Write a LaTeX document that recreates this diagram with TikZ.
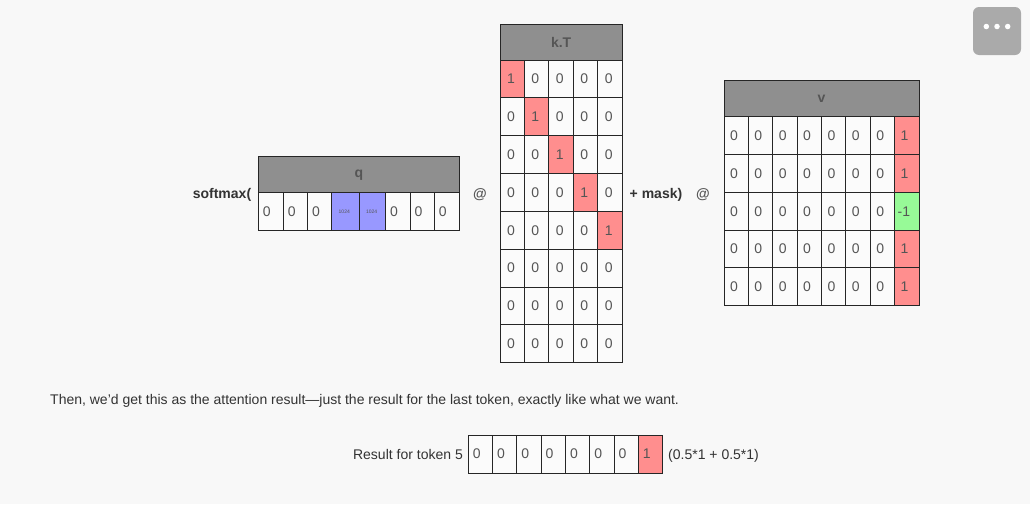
\documentclass[tikz,border=0pt]{standalone}
\usepackage{fontspec}
\setmainfont{Liberation Sans}
\definecolor{bg}{HTML}{F8F8F8}
\definecolor{cellbg}{HTML}{FBFBFB}
\definecolor{headbg}{HTML}{8F8F8F}
\definecolor{headtext}{HTML}{555555}
\definecolor{border}{HTML}{262626}
\definecolor{digit}{HTML}{555555}
\definecolor{txt}{HTML}{333333}
\definecolor{redc}{HTML}{FF8E8E}
\definecolor{bluec}{HTML}{9898FF}
\definecolor{greenc}{HTML}{97FA97}
\definecolor{btn}{HTML}{AAAAAA}
\tikzset{
  cellbox/.style={draw=border, line width=1pt, fill=cellbg, inner sep=0pt, align=left,
    font=\fontsize{14}{14}\selectfont, text=digit},
  headbox/.style={draw=border, line width=1pt, fill=headbg, inner sep=0pt,
    font=\bfseries\fontsize{14}{14}\selectfont, text=headtext},
  lbl/.style={inner sep=0pt, font=\fontsize{14}{16}\selectfont, text=txt},
  blbl/.style={inner sep=0pt, font=\bfseries\fontsize{14}{16}\selectfont, text=txt},
}
\begin{document}
\begin{tikzpicture}[x=1pt,y=-1pt]
\path[fill=bg] (0,0) rectangle (1030,504);
\useasboundingbox (0,0) rectangle (1030,504);

% ---------- q ----------
\node[headbox, minimum width=201pt, minimum height=36pt] (qh) at (358.8,174.7) {q};
\foreach \i/\a/\b/\t/\f/\p in {1/258.3/283.3/0/cellbg/4.5, 2/283.3/307.7/0/cellbg/4.5,
  3/307.7/331.7/0/cellbg/4.5, 4/331.7/359/{\fontsize{5}{5}\selectfont 1024}/bluec/4.5,
  5/359/385.7/{\fontsize{5}{5}\selectfont 1024}/bluec/4.5, 6/385.7/410/0/cellbg/4.5,
  7/410/434.3/0/cellbg/4.5, 8/434.3/459.3/0/cellbg/4.5}{
  \pgfmathsetmacro\w{\b-\a}
  \ifnum\i=4 \pgfmathsetmacro\tw{\w-2*7}\else\ifnum\i=5 \pgfmathsetmacro\tw{\w-2*7}\else\pgfmathsetmacro\tw{\w-2*\p}\fi\fi
  \node[cellbox, fill=\f, minimum width=\w pt, text width=\tw pt, minimum height=38pt] (q\i) at ({(\a+\b)/2},211.7) {\t};
}

% ---------- k.T ----------
\node[headbox, minimum width=122.3pt, minimum height=36pt] (kh) at (561.15,42) {k.T};
\foreach \r in {1,...,8}{
  \foreach \c in {1,...,5}{
    \pgfmathsetmacro\cx{500+24.46*(\c-0.5)}
    \pgfmathsetmacro\cy{60+37.84*(\r-0.5)}
    \ifnum\r=\c
      \node[cellbox, fill=redc, minimum width=24.46pt, text width=10.46pt, minimum height=37.84pt] (k\r-\c) at (\cx,\cy) {1};
    \else
      \node[cellbox, minimum width=24.46pt, text width=10.46pt, minimum height=37.84pt] (k\r-\c) at (\cx,\cy) {0};
    \fi
  }
}

% ---------- v ----------
\node[headbox, minimum width=195pt, minimum height=36.7pt] (vh) at (821.5,98.35) {v};
\foreach \r in {1,...,5}{
  \foreach \c in {1,...,8}{
    \pgfmathsetmacro\cx{724+24.375*(\c-0.5)}
    \pgfmathsetmacro\cy{116.7+37.8*(\r-0.5)}
    \ifnum\c=8
      \ifnum\r=3
        \node[cellbox, fill=greenc, minimum width=24.375pt, text width=18.375pt, minimum height=37.8pt] (v\r-\c) at (\cx,\cy) {-1};
      \else
        \node[cellbox, fill=redc, minimum width=24.375pt, text width=12.375pt, minimum height=37.8pt] (v\r-\c) at (\cx,\cy) {1};
      \fi
    \else
      \node[cellbox, minimum width=24.375pt, text width=12.375pt, minimum height=37.8pt] (v\r-\c) at (\cx,\cy) {0};
    \fi
  }
}

% ---------- operators ----------
\node[blbl, anchor=base] (softmax) at (222,198) {softmax(};
\node[blbl, anchor=base, text=headtext] (at1) at (480,198) {@};
\node[blbl, anchor=base] (mask) at (656,198) {+ mask)};
\node[blbl, anchor=base, text=headtext] (at2) at (703,198) {@};

% ---------- sentence ----------
\node[lbl, anchor=base west] (then) at (50,404) {Then, we'd get this as the attention result—just the result for the last token, exactly like what we want.};

% ---------- result ----------
\node[lbl, anchor=base east] (reslbl) at (463,459) {Result for token 5};
\foreach \c in {1,...,8}{
  \pgfmathsetmacro\cx{468.3+24.3*(\c-0.5)}
  \ifnum\c=8
    \node[cellbox, fill=redc, minimum width=24.3pt, text width=15.3pt, minimum height=38.3pt] (r\c) at (\cx,454.15) {1};
  \else
    \node[cellbox, minimum width=24.3pt, text width=15.3pt, minimum height=38.3pt] (r\c) at (\cx,454.15) {0};
  \fi
}
\node[lbl, anchor=base west] (formula) at (668,459) {(0.5*1 + 0.5*1)};

% ---------- menu button ----------
\node[fill=btn, rounded corners=6pt, minimum width=48pt, minimum height=48pt, inner sep=0pt] (menu) at (997,31) {};
\foreach \i/\dx in {1/-10.7, 2/0, 3/10.7}{
  \node[circle, fill=white, inner sep=0pt, minimum size=5.5pt] (dot\i) at ([xshift=\dx pt, yshift=4.5pt]menu.center) {};
}
\end{tikzpicture}
\end{document}
